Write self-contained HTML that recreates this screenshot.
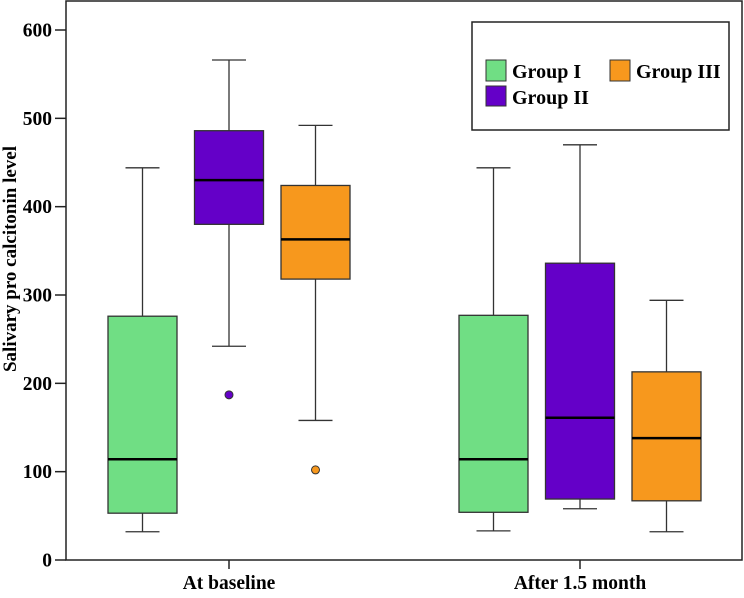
<!DOCTYPE html>
<html><head><meta charset="utf-8"><style>
html,body{margin:0;padding:0;background:#fff;}
svg text{font-family:"Liberation Serif",serif;font-weight:bold;fill:#000;}
</style></head><body>
<svg id="chart" width="744" height="593" viewBox="0 0 744 593" xmlns="http://www.w3.org/2000/svg">
<rect x="66" y="1" width="676" height="559" fill="#fff" stroke="#222" stroke-width="1.5"/>
<g id="marks"></g>
<g id="axes"></g>
<text transform="translate(16,259) rotate(-90)" text-anchor="middle" font-size="19">Salivary pro calcitonin level</text>
<g>
<rect x="472" y="22" width="257" height="108" fill="#fff" stroke="#222" stroke-width="1.5"/>
<rect x="486" y="60" width="20" height="21" fill="#70DE84" stroke="#333"/>
<text x="512" y="78" font-size="20">Group I</text>
<rect x="610" y="60" width="20" height="21" fill="#F7981D" stroke="#333"/>
<text x="636" y="78" font-size="20">Group III</text>
<rect x="486" y="86" width="20" height="20" fill="#6400C8" stroke="#333"/>
<text x="512" y="104" font-size="20">Group II</text>
</g>
</svg>
<script>
const categories = ["At baseline", "After 1.5 month"];
const groups = ["Group I", "Group II", "Group III"];
const colors = ["#70DE84", "#6400C8", "#F7981D"];
// [lowerWhisker, Q1, median, Q3, upperWhisker] per category
const groupI = [[32, 53, 114, 276, 444], [33, 54, 114, 277, 444]];
const groupII = [[242, 380, 430, 486, 566], [58, 69, 161, 336, 470]];
const groupIII = [[158, 318, 363, 424, 492], [32, 67, 138, 213, 294]];
const outliersII = [[187], []];
const outliersIII = [[102], []];
const yTicks = [0, 100, 200, 300, 400, 500, 600];

const series = [groupI, groupII, groupIII];
const outliers = [[[], []], outliersII, outliersIII];
const NS = "http://www.w3.org/2000/svg";
const y = v => 560 - v * 0.88333;
const catX = i => 229 + i * 351;
const groupX = (c, g) => catX(c) + (g - 1) * 86.5;
const BW = 69, CAP = 34;
const marks = document.getElementById("marks");
const axes = document.getElementById("axes");
function mk(tag, attrs, parent) {
  const e = document.createElementNS(NS, tag);
  for (const k in attrs) e.setAttribute(k, attrs[k]);
  parent.appendChild(e);
  return e;
}
series.forEach((s, g) => {
  s.forEach((d, c) => {
    const cx = groupX(c, g);
    const grp = mk("g", {}, marks);
    
    
    const ln = {stroke: "#333", "stroke-width": 1.3};
    mk("line", Object.assign({x1: cx, x2: cx, y1: y(d[3]), y2: y(d[4])}, ln), grp);
    mk("line", Object.assign({x1: cx, x2: cx, y1: y(d[1]), y2: y(d[0])}, ln), grp);
    mk("line", Object.assign({x1: cx - CAP / 2, x2: cx + CAP / 2, y1: y(d[4]), y2: y(d[4])}, ln), grp);
    mk("line", Object.assign({x1: cx - CAP / 2, x2: cx + CAP / 2, y1: y(d[0]), y2: y(d[0])}, ln), grp);
    mk("rect", {x: cx - BW / 2, y: y(d[3]), width: BW, height: y(d[1]) - y(d[3]), fill: colors[g], stroke: "#333", "stroke-width": 1.3}, grp);
    mk("line", {x1: cx - BW / 2, x2: cx + BW / 2, y1: y(d[2]), y2: y(d[2]), stroke: "#000", "stroke-width": 2.5}, grp);
    outliers[g][c].forEach(v => {
      const o = mk("circle", {cx: cx, cy: y(v), r: 4, fill: colors[g], stroke: "#333", "stroke-width": 1}, grp);
      
      
    });
  });
});
yTicks.forEach(t => {
  const l = mk("line", {x1: 55, x2: 66, y1: y(t), y2: y(t), stroke: "#222", "stroke-width": 1.5}, axes);
  
  
  const tx = mk("text", {x: 52, y: y(t) + 6.5, "text-anchor": "end", "font-size": 19.5}, axes);
  tx.textContent = t;
  
  
});
categories.forEach((c, i) => {
  const l = mk("line", {x1: catX(i), x2: catX(i), y1: 560, y2: 569, stroke: "#222", "stroke-width": 1.5}, axes);
  
  
  const tx = mk("text", {x: catX(i), y: 589, "text-anchor": "middle", "font-size": 19.5}, axes);
  tx.textContent = c;
  
  
});
</script>
</body></html>
